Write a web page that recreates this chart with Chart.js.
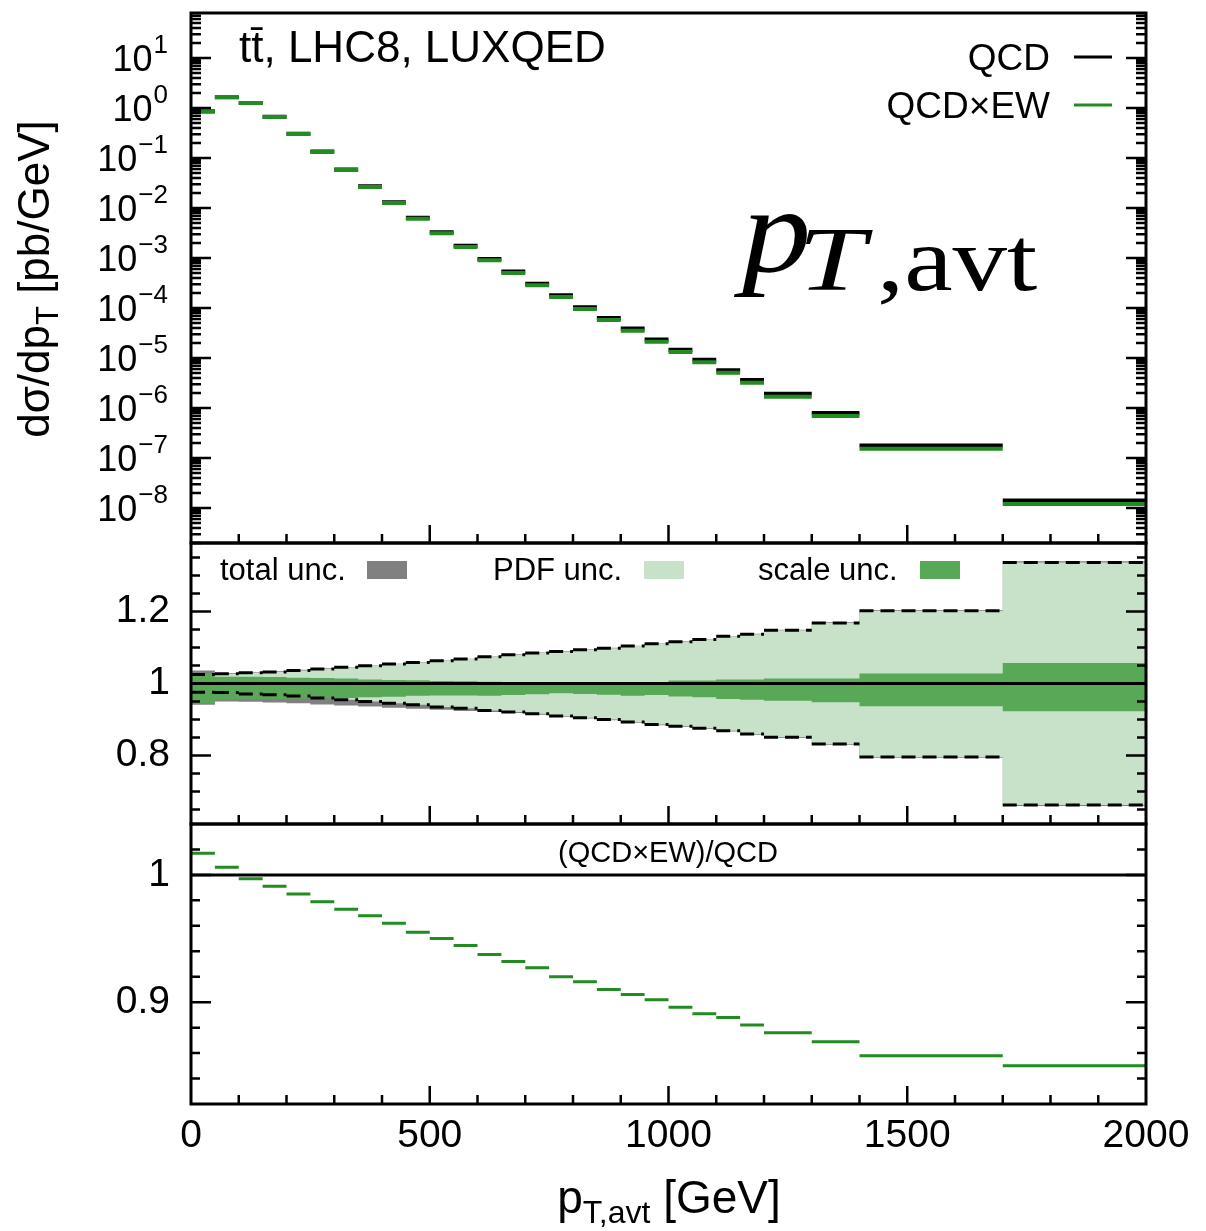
<!DOCTYPE html>
<html>
<head>
<meta charset="utf-8">
<script src="https://cdn.jsdelivr.net/npm/chart.js@4.4.1/dist/chart.umd.min.js"></script>
<style>
  html, body { margin: 0; padding: 0; background: #fff; }
  #wrap { position: relative; width: 1206px; height: 1231px; }
</style>
</head>
<body>
<div id="wrap"><canvas id="c" width="1206" height="1231"></canvas></div>
<script>
// bin edges in pT,avt [GeV]
const binEdges = [0, 50, 100, 150, 200, 250, 300, 350, 400, 450, 500, 550, 600, 650, 700,
  750, 800, 850, 900, 950, 1000, 1050, 1100, 1150, 1200, 1300, 1400, 1700, 2000];

// dsigma/dpT [pb/GeV]
const qcd = [0.855, 1.65, 1.26, 0.666, 0.307, 0.135, 0.0591, 0.0272, 0.0131, 0.00639,
  0.00328, 0.00176, 0.00096, 0.000536, 0.000306, 0.00018, 1.04e-4, 6.32e-5, 3.89e-5,
  2.35e-5, 1.47e-5, 9.2e-6, 5.72e-6, 3.64e-6, 1.92e-6, 7.94e-7, 1.78e-7, 1.41e-8];
const qcdEw = [0.87, 1.66, 1.26, 0.66, 0.302, 0.132, 0.0575, 0.0263, 0.0126, 0.0061,
  0.00312, 0.00166, 0.0009, 0.0005, 0.000284, 0.000166, 9.55e-5, 5.75e-5, 3.52e-5,
  2.12e-5, 1.32e-5, 8.2e-6, 5.08e-6, 3.21e-6, 1.68e-6, 6.9e-7, 1.53e-7, 1.2e-8];

// relative uncertainty bands (middle panel)
const totalUp = [1.036, 1.029, 1.031, 1.034, 1.038, 1.042, 1.046, 1.050, 1.055, 1.059,
  1.064, 1.069, 1.075, 1.081, 1.086, 1.090, 1.095, 1.099, 1.105, 1.111, 1.117, 1.123,
  1.132, 1.138, 1.149, 1.170, 1.204, 1.339];
const totalDown = [0.941, 0.950, 0.949, 0.947, 0.945, 0.942, 0.939, 0.936, 0.933, 0.930,
  0.927, 0.924, 0.921, 0.918, 0.913, 0.908, 0.903, 0.898, 0.891, 0.884, 0.879, 0.874,
  0.867, 0.858, 0.849, 0.830, 0.794, 0.660];
const pdfUp = [1.025, 1.027, 1.030, 1.032, 1.036, 1.040, 1.045, 1.049, 1.054, 1.058,
  1.063, 1.068, 1.074, 1.080, 1.085, 1.089, 1.094, 1.098, 1.104, 1.110, 1.116, 1.122,
  1.131, 1.137, 1.148, 1.168, 1.202, 1.336];
const pdfDown = [0.976, 0.975, 0.971, 0.969, 0.965, 0.960, 0.955, 0.950, 0.945, 0.941,
  0.935, 0.931, 0.925, 0.921, 0.916, 0.910, 0.905, 0.900, 0.893, 0.886, 0.881, 0.876,
  0.869, 0.860, 0.851, 0.832, 0.796, 0.663];
const scaleUp = [1.028, 1.019, 1.019, 1.018, 1.016, 1.015, 1.014, 1.011, 1.010, 1.009,
  1.007, 1.006, 1.005, 1.004, 1.003, 1.003, 1.003, 1.003, 1.003, 1.004, 1.008, 1.008,
  1.011, 1.011, 1.014, 1.014, 1.028, 1.057];
const scaleDown = [0.945, 0.955, 0.956, 0.957, 0.958, 0.959, 0.960, 0.962, 0.963, 0.966,
  0.967, 0.967, 0.966, 0.968, 0.970, 0.973, 0.971, 0.969, 0.966, 0.968, 0.964, 0.962,
  0.957, 0.955, 0.952, 0.948, 0.937, 0.923];

// (QCDxEW)/QCD
const ewRatio = [1.017, 1.006, 0.997, 0.991, 0.985, 0.979, 0.973, 0.968, 0.962, 0.955,
  0.950, 0.9445, 0.9375, 0.932, 0.927, 0.920, 0.916, 0.910, 0.906, 0.902, 0.896, 0.891,
  0.888, 0.882, 0.876, 0.869, 0.858, 0.850];

const xTickLabels = [0, 500, 1000, 1500, 2000];
const decadeExps = [1, 0, -1, -2, -3, -4, -5, -6, -7, -8];
const midTickLabels = [0.8, 1, 1.2];
const ratioTickLabels = [0.9, 1];

const FONT = '"Liberation Sans", Arial, Helvetica, sans-serif';
const SERIF = '"Liberation Serif", "Times New Roman", serif';
const GREEN = 'rgb(34,139,34)';
const GREY = 'rgb(128,128,128)';
const PDF_FILL = 'rgb(199,226,200)';
const SCALE_FILL = 'rgb(88,168,88)';
const NONE = 'rgba(0,0,0,0)';

// histogram outline with vertical connectors (used for filled bands)
function stepPoints(vals) {
  const pts = [];
  vals.forEach((v, i) => {
    pts.push({ x: binEdges[i], y: v });
    pts.push({ x: binEdges[i + 1], y: v });
  });
  return pts;
}

// one horizontal segment per bin, no connectors
function segPoints(vals) {
  const pts = [];
  vals.forEach((v, i) => {
    pts.push({ x: binEdges[i], y: v });
    pts.push({ x: binEdges[i + 1], y: v });
    pts.push({ x: binEdges[i + 1], y: null });
  });
  return pts;
}

const lineBase = { pointRadius: 0, pointHoverRadius: 0, tension: 0, fill: false, spanGaps: false, borderCapStyle: 'butt' };

function band(upper, lower, color, order) {
  return [
    { ...lineBase, data: stepPoints(upper), yAxisID: 'yMid', fill: '+1', backgroundColor: color, borderColor: NONE, borderWidth: 0, order },
    { ...lineBase, data: stepPoints(lower), yAxisID: 'yMid', borderColor: NONE, borderWidth: 0, order },
  ];
}

const fullRange = [{ x: binEdges[0], y: 1 }, { x: binEdges[binEdges.length - 1], y: 1 }];

const datasets = [
  { ...lineBase, label: 'QCD', data: segPoints(qcd), yAxisID: 'yTop', borderColor: '#000', borderWidth: 4, order: 3 },
  { ...lineBase, label: 'QCD×EW', data: segPoints(qcdEw), yAxisID: 'yTop', borderColor: GREEN, borderWidth: 4, order: 2 },
  ...band(totalUp, totalDown, GREY, 10),
  ...band(pdfUp, pdfDown, PDF_FILL, 9),
  ...band(scaleUp, scaleDown, SCALE_FILL, 8),
  { ...lineBase, data: segPoints(pdfUp), yAxisID: 'yMid', borderColor: '#000', borderWidth: 3, borderDash: [14, 7], order: 7 },
  { ...lineBase, data: segPoints(pdfDown), yAxisID: 'yMid', borderColor: '#000', borderWidth: 3, borderDash: [14, 7], order: 7 },
  { ...lineBase, data: fullRange, yAxisID: 'yMid', borderColor: '#000', borderWidth: 3, order: 6 },
  { ...lineBase, data: fullRange, yAxisID: 'yBot', borderColor: '#000', borderWidth: 3, order: 5 },
  { ...lineBase, label: 'ratio', data: segPoints(ewRatio), yAxisID: 'yBot', borderColor: GREEN, borderWidth: 3, order: 1 },
];

const hiddenGrid = { display: false, drawTicks: false };

function yAxis(extra) {
  return Object.assign({
    position: 'left',
    stack: 'panels',
    grid: hiddenGrid,
    border: { display: false },
    afterFit: s => { s.width = 191; s.paddingTop = 0; s.paddingBottom = 0; },
  }, extra);
}

// frames, inward tick marks and all annotation text
const decorations = {
  id: 'decorations',
  afterDraw(chart) {
    const ctx = chart.ctx;
    const x = chart.scales.x;
    const yTop = chart.scales.yTop, yMid = chart.scales.yMid, yBot = chart.scales.yBot;
    const L = x.left, R = x.right;
    ctx.save();
    ctx.strokeStyle = '#000';
    ctx.fillStyle = '#000';

    // x ticks on the bottom edge of each panel
    ctx.lineWidth = 2.5;
    [yTop, yMid, yBot].forEach(s => {
      ctx.beginPath();
      for (let v = 100; v < 2000; v += 100) {
        const px = x.getPixelForValue(v);
        const len = v % 500 === 0 ? 18 : 9;
        ctx.moveTo(px, s.bottom);
        ctx.lineTo(px, s.bottom - len);
      }
      ctx.stroke();
    });

    function yTick(py, len) {
      ctx.moveTo(L, py); ctx.lineTo(L + len, py);
      ctx.moveTo(R, py); ctx.lineTo(R - len, py);
    }
    ctx.beginPath();
    for (let k = -9; k <= 1; k++) {
      for (let m = 1; m <= 9; m++) {
        const v = m * Math.pow(10, k);
        if (v <= yTop.min || v >= yTop.max) continue;
        yTick(yTop.getPixelForValue(v), m === 1 ? 20 : 10);
      }
    }
    for (let i = 13; i <= 27; i++) {
      yTick(yMid.getPixelForValue(i * 0.05), i % 4 === 0 ? 20 : 9);
    }
    for (let i = 42; i <= 51; i++) {
      yTick(yBot.getPixelForValue(i * 0.02), i % 5 === 0 ? 20 : 9);
    }
    ctx.stroke();

    // panel frames
    ctx.lineWidth = 3;
    [yTop, yMid, yBot].forEach(s => ctx.strokeRect(L, s.top, R - L, s.bottom - s.top));

    // decade labels 10^n
    ctx.textAlign = 'right';
    ctx.textBaseline = 'alphabetic';
    decadeExps.forEach(e => {
      const py = yTop.getPixelForValue(Math.pow(10, e));
      const exp = e < 0 ? '\u2212' + (-e) : String(e);
      ctx.font = '26px ' + FONT;
      const ew = ctx.measureText(exp).width;
      ctx.fillText(exp, 168, py - 5);
      ctx.font = '36px ' + FONT;
      ctx.fillText('10', 168 - ew - 1, py + 13);
    });

    // y title
    ctx.save();
    ctx.translate(49, 279);
    ctx.rotate(-Math.PI / 2);
    ctx.textAlign = 'left';
    const mainF = '44px ' + FONT, subF = '31px ' + FONT;
    ctx.font = mainF; const a1 = ctx.measureText('dσ/dp').width;
    ctx.font = subF; const a2 = ctx.measureText('T').width;
    ctx.font = mainF; const a3 = ctx.measureText(' [pb/GeV]').width;
    let x0 = -(a1 + a2 + a3) / 2;
    ctx.font = mainF; ctx.fillText('dσ/dp', x0, 0);
    ctx.font = subF; ctx.fillText('T', x0 + a1, 9);
    ctx.font = mainF; ctx.fillText(' [pb/GeV]', x0 + a1 + a2, 0);
    ctx.restore();

    // x title
    ctx.textAlign = 'left';
    const xMainF = '46px ' + FONT, xSubF = '32px ' + FONT;
    ctx.font = xMainF; const b1 = ctx.measureText('p').width;
    ctx.font = xSubF; const b2 = ctx.measureText('T,avt').width;
    ctx.font = xMainF; const b3 = ctx.measureText(' [GeV]').width;
    x0 = 669 - (b1 + b2 + b3) / 2;
    ctx.font = xMainF; ctx.fillText('p', x0, 1213);
    ctx.font = xSubF; ctx.fillText('T,avt', x0 + b1, 1223);
    ctx.font = xMainF; ctx.fillText(' [GeV]', x0 + b1 + b2, 1213);

    // process label
    ctx.font = '44px ' + FONT;
    ctx.fillText('tt\u0304, LHC8, LUXQED', 239, 62);

    // series legend
    ctx.textAlign = 'right';
    ctx.font = '37px ' + FONT;
    ctx.fillText('QCD', 1050, 70);
    ctx.fillText('QCD×EW', 1050, 118);
    ctx.lineWidth = 3;
    ctx.strokeStyle = '#000';
    ctx.beginPath(); ctx.moveTo(1074, 57); ctx.lineTo(1112, 57); ctx.stroke();
    ctx.strokeStyle = GREEN;
    ctx.beginPath(); ctx.moveTo(1074, 105); ctx.lineTo(1112, 105); ctx.stroke();

    // observable name
    ctx.textAlign = 'left';
    ctx.save();
    ctx.translate(742, 271);
    ctx.scale(1.15, 1);
    ctx.font = 'italic 120px ' + SERIF;
    ctx.fillText('p', 0, 0);
    ctx.restore();
    ctx.save();
    ctx.translate(798, 290);
    ctx.scale(1.35, 1);
    ctx.font = 'italic 90px ' + SERIF;
    ctx.fillText('T', 0, 0);
    ctx.restore();
    ctx.save();
    ctx.translate(877, 290);
    ctx.scale(1.21, 1);
    ctx.font = '90px ' + SERIF;
    ctx.fillText(',avt', 0, 0);
    ctx.restore();

    // uncertainty legend
    ctx.textAlign = 'left';
    ctx.font = '31px ' + FONT;
    ctx.fillStyle = '#000';
    ctx.fillText('total unc.', 220, 580);
    ctx.fillText('PDF unc.', 493, 580);
    ctx.fillText('scale unc.', 758, 580);
    ctx.fillStyle = GREY; ctx.fillRect(367, 561, 40, 18);
    ctx.fillStyle = PDF_FILL; ctx.fillRect(644, 561, 40, 18);
    ctx.fillStyle = SCALE_FILL; ctx.fillRect(920, 561, 40, 18);

    // ratio panel label
    ctx.fillStyle = '#000';
    ctx.textAlign = 'center';
    ctx.font = '29px ' + FONT;
    ctx.fillText('(QCD×EW)/QCD', 668, 862);

    ctx.restore();
  }
};

new Chart(document.getElementById('c'), {
  type: 'line',
  data: { datasets },
  options: {
    responsive: false,
    animation: false,
    devicePixelRatio: 1,
    layout: { padding: { top: 13, right: 60, left: 0, bottom: 0 } },
    plugins: { legend: { display: false }, tooltip: { enabled: false } },
    events: [],
    scales: {
      x: {
        type: 'linear',
        min: 0,
        max: 2000,
        grid: hiddenGrid,
        border: { display: false },
        afterBuildTicks: s => { s.ticks = xTickLabels.map(v => ({ value: v })); },
        afterFit: s => { s.height = 127; s.paddingLeft = 0; s.paddingRight = 0; },
        ticks: {
          font: { family: FONT, size: 39 }, color: '#000', padding: 9,
          maxRotation: 0, autoSkip: false, callback: v => String(v),
        },
      },
      yTop: yAxis({
        type: 'logarithmic',
        min: Math.pow(10, -8.7),
        max: Math.pow(10, 1.9),
        stackWeight: 530,
        weight: 3,
        afterBuildTicks: s => { s.ticks = decadeExps.map(e => ({ value: Math.pow(10, e) })); },
        ticks: { display: false },
      }),
      yMid: yAxis({
        type: 'linear',
        min: 0.61,
        max: 1.39,
        stackWeight: 281,
        weight: 2,
        afterBuildTicks: s => { s.ticks = midTickLabels.map(v => ({ value: v })); },
        ticks: { font: { family: FONT, size: 39 }, color: '#000', padding: 21, callback: v => String(v) },
      }),
      yBot: yAxis({
        type: 'linear',
        min: 0.82,
        max: 1.04,
        stackWeight: 280,
        weight: 1,
        afterBuildTicks: s => { s.ticks = ratioTickLabels.map(v => ({ value: v })); },
        ticks: { font: { family: FONT, size: 39 }, color: '#000', padding: 21, callback: v => String(v) },
      }),
    },
  },
  plugins: [decorations],
});
</script>
</body>
</html>
